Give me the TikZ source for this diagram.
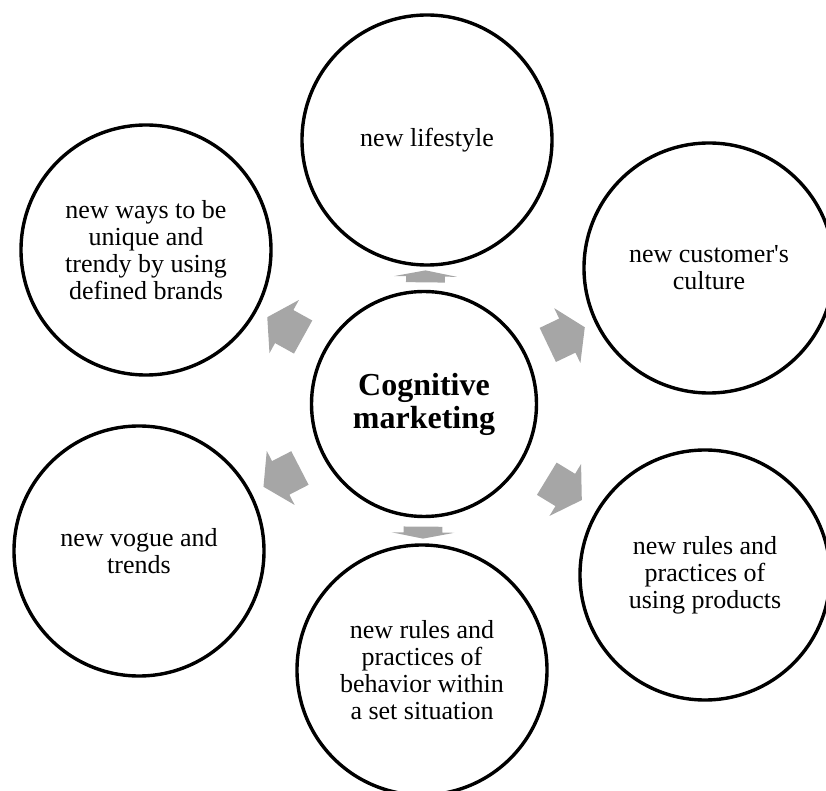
\documentclass[tikz,border=0pt]{standalone}
\usepackage{fontspec}
\setmainfont{Liberation Serif}
\usetikzlibrary{shapes.arrows}

\begin{document}
\begin{tikzpicture}[x=0.5pt, y=-0.5pt,
  idea/.style={circle, draw=black, line width=1.7pt, minimum size=125pt, inner sep=0pt, align=center, font=\fontsize{13}{13.5}\selectfont},
  core/.style={idea, minimum size=112.5pt, font=\bfseries\fontsize{16}{16.5}\selectfont},
  flow/.style={single arrow, fill=black!35, draw=none, inner xsep=0pt, inner ysep=9.25pt, single arrow head extend=5.75pt, single arrow tip angle=115, minimum height=20.5pt, sloped, allow upside down},
  flat/.style={flow, inner ysep=9.5pt, single arrow head extend=6pt, single arrow tip angle=158, minimum height=6pt}]
  \useasboundingbox (0,0) rectangle (826,791);
  \clip (0,0) rectangle (826,791);
  \node[core] (cm) at (424,404) {Cognitive\\marketing};
  \node[idea] (life) at (427,140) {new lifestyle};
  \node[idea] (culture) at (709,268) {new customer\textquotesingle s\\culture};
  \node[idea] (usage) at (705,575) {new rules and\\practices of\\using products};
  \node[idea] (behav) at (422,670) {new rules and\\practices of\\behavior within\\a set situation};
  \node[idea] (vogue) at (139,551) {new vogue and\\trends};
  \node[idea] (ways) at (146,250) {new ways to be\\unique and\\trendy by using\\defined brands};
  \path (cm) -- (life) node[flat, midway] (a1) {};
  \path (cm) -- (culture) node[flow, midway] (a2) {};
  \path (cm) -- (usage) node[flow, midway] (a3) {};
  \path (cm) -- (behav) node[flat, midway] (a4) {};
  \path (cm) -- (vogue) node[flow, midway] (a5) {};
  \path (cm) -- (ways) node[flow, midway] (a6) {};
\end{tikzpicture}
\end{document}
